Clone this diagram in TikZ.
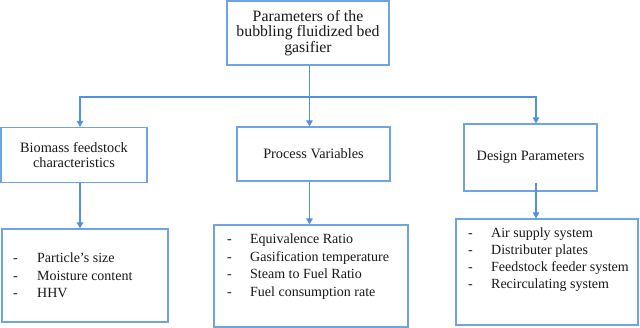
\documentclass[tikz,border=0pt]{standalone}
\usepackage{fontspec}
\setmainfont{Liberation Serif}
\usetikzlibrary{arrows.meta}
\definecolor{boxblue}{RGB}{110,165,225}
\definecolor{lineblue}{RGB}{80,145,225}
\begin{document}
\begin{tikzpicture}[x=1pt,y=-1pt,
  box/.style={draw=boxblue,line width=1.2pt,fill=white,inner sep=0pt,align=center,
    font=\fontsize{14.3}{15.8}\selectfont,text=black!90},
  item/.style={anchor=base west,inner sep=0pt,font=\fontsize{14}{16}\selectfont,text=black!90},
  conn/.style={draw=lineblue,line width=1.1pt},
  arr/.style={conn,-{Triangle[width=6.5pt,length=6pt]}}]
\useasboundingbox (0,0) rectangle (640,328);
\fill[white] (0,0) rectangle (640,328);
% header boxes
\node[box,minimum width=162pt,minimum height=64pt,font=\fontsize{15.8}{15.6}\selectfont] (top) at (308,33)
  {Parameters of the\\bubbling fluidized bed\\gasifier};
\node[box,minimum width=146pt,minimum height=55pt] (bio) at (74,155)
  {Biomass feedstock\\characteristics};
\node[box,minimum width=153pt,minimum height=54pt] (proc) at (313.5,154)
  {Process Variables};
\node[box,minimum width=133pt,minimum height=67pt] (des) at (530.5,157.5)
  {Design Parameters};
% list boxes
\node[box,minimum width=166pt,minimum height=93pt] (la) at (85,275.5) {};
\node[box,minimum width=194pt,minimum height=102pt] (lb) at (311,276) {};
\node[box,minimum width=182pt,minimum height=106pt] (lc) at (547,272) {};
% list items
\node[item] (a1) at (13,263) {\makebox[24pt][l]{-}Particle’s size};
\node[item] (a2) at (13,280.5) {\makebox[24pt][l]{-}Moisture content};
\node[item] (a3) at (13,298) {\makebox[24pt][l]{-}HHV};
\node[item] (b1) at (227,244) {\makebox[23pt][l]{-}Equivalence Ratio};
\node[item] (b2) at (227,261.5) {\makebox[23pt][l]{-}Gasification temperature};
\node[item] (b3) at (227,279) {\makebox[23pt][l]{-}Steam to Fuel Ratio};
\node[item] (b4) at (227,296.5) {\makebox[23pt][l]{-}Fuel consumption rate};
\node[item] (c1) at (468,238) {\makebox[23pt][l]{-}Air supply system};
\node[item] (c2) at (468,255) {\makebox[23pt][l]{-}Distributer plates};
\node[item] (c3) at (468,272) {\makebox[23pt][l]{-}Feedstock feeder system};
\node[item] (c4) at (468,289) {\makebox[23pt][l]{-}Recirculating system};
% connectors
\coordinate (j) at (309.5,97);
\draw[conn] (top.south -| j) -- (j);
\draw[arr] (j) -| ([xshift=6pt]bio.north);
\draw[arr] (j) -- (j |- proc.north);
\draw[arr] (j) -| ([xshift=5.5pt]des.north);
\draw[arr] ([xshift=6pt]bio.south) -- ([xshift=6pt]bio.south |- la.north);
\draw[arr] (j |- proc.south) -- (j |- lb.north);
\draw[arr] ([xshift=5.5pt,yshift=9pt]des.south) -- ([xshift=5.5pt]des.south |- lc.north);
\end{tikzpicture}
\end{document}
